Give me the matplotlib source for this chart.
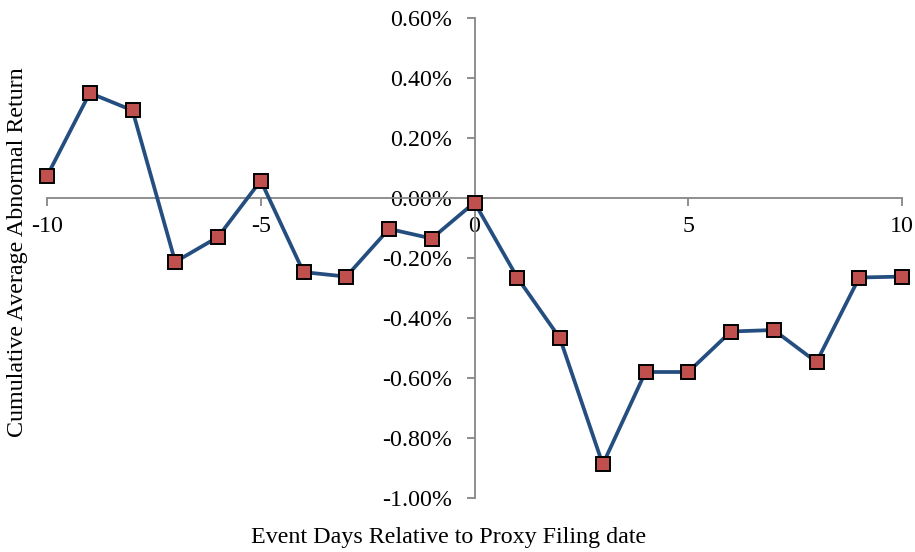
import matplotlib.pyplot as plt
from matplotlib.ticker import FuncFormatter

# event days and cumulative average abnormal return (%)
days = list(range(-10, 11))
car = [0.073, 0.350, 0.292, -0.213, -0.130, 0.058, -0.247, -0.262, -0.103, -0.135,
       -0.015, -0.265, -0.468, -0.888, -0.580, -0.580, -0.445, -0.440, -0.547, -0.265, -0.262]

plt.rcParams['font.family'] = ['Liberation Serif', 'DejaVu Serif']
plt.rcParams['axes.unicode_minus'] = False

fig = plt.figure(figsize=(9.15, 5.52), dpi=100)
ax = fig.add_axes([47 / 915, 1 - 498 / 552, 855 / 915, 480 / 552])

ax.plot(days, car, color='#254E80', lw=2.7, marker='s', markersize=10,
        markerfacecolor='#C0504D', markeredgecolor='black', markeredgewidth=1.4,
        zorder=3, clip_on=False)

ax.set_xlim(-10, 10)
ax.set_ylim(-1.0, 0.6)
ax.set_xticks([-10, -5, 0, 5, 10])
ax.set_yticks([-1.0, -0.8, -0.6, -0.4, -0.2, 0.0, 0.2, 0.4, 0.6])
ax.yaxis.set_major_formatter(FuncFormatter(lambda v, p: f'{v:.2f}%'))

for side in ['top', 'right']:
    ax.spines[side].set_visible(False)
ax.spines['left'].set_position(('data', 0))
ax.spines['bottom'].set_position(('data', 0))
for side in ['left', 'bottom']:
    ax.spines[side].set_color('#868686')
    ax.spines[side].set_linewidth(1.3)
ax.tick_params(axis='both', colors='#868686', labelcolor='black', labelsize=17.3,
               length=6, width=1.3)
ax.tick_params(axis='x', pad=7)
ax.tick_params(axis='y', pad=10)

fig.text(449 / 915, 1 - 538 / 552, 'Event Days Relative to Proxy Filing date',
         ha='center', va='center', fontsize=17.3)
fig.text(18 / 915, 1 - 252 / 552, 'Cumulative Average Abnormal Return',
         ha='center', va='center', rotation=90, fontsize=17.3)

fig.savefig('out.png', dpi=100)
